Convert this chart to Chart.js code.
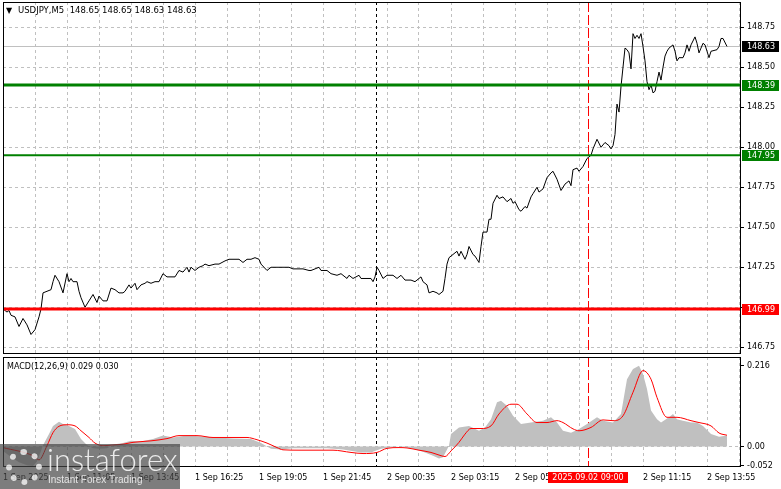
<!DOCTYPE html>
<html>
<head>
<meta charset="utf-8">
<title>USDJPY M5</title>
<script src="https://cdn.jsdelivr.net/npm/chart.js"></script>
<style>
  html, body { margin:0; padding:0; background:#fff; }
  #wrap { position:relative; width:781px; height:489px; overflow:hidden; background:#fff; }
  canvas { position:absolute; left:0; }
  #priceCanvas { top:0; }
  #macdCanvas { top:355px; }
  .lbl { position:absolute; font-family:"DejaVu Sans", sans-serif; color:#000; white-space:pre; }
  #title { left:6px; top:4px; font-size:8.5px; line-height:12px; }
  #title .tri { display:inline-block; width:12px; font-size:8px; }
  #macdTitle { left:7px; top:361px; font-size:8px; line-height:11px; }
  #logo { position:absolute; left:0; top:444px; width:180px; height:45px; background:rgba(70,70,70,0.7); }
  #logoIcon { position:absolute; left:6px; top:5px; width:24px; height:24px; border:6px dotted rgba(255,255,255,0.75); border-radius:50%; }
  #logoText { position:absolute; left:47px; top:-1px; font-family:Lato, "DejaVu Sans", sans-serif; font-weight:300; font-size:31px; line-height:32px; color:rgba(255,255,255,0.85); }
  #logoSub { position:absolute; left:48px; top:30px; font-family:"Liberation Sans", sans-serif; font-size:10px; line-height:12px; color:rgba(255,255,255,0.8); }
</style>
</head>
<body>
<div id="wrap">
  <canvas id="priceCanvas" width="781" height="356"></canvas>
  <canvas id="macdCanvas" width="781" height="134"></canvas>
  <div id="title" class="lbl"></div>
  <div id="macdTitle" class="lbl"></div>
  <div id="logo">
    <div id="logoIcon"></div>
    <div id="logoText">instaforex</div>
    <div id="logoSub">Instant Forex Trading</div>
  </div>
</div>
<script>
// USDJPY M5 close prices, sampled by bar number (bar 0 = first bar on screen)
const symbol = 'USDJPY,M5';
const ohlc = [148.65, 148.65, 148.63, 148.63];
const bid = 148.63;

const priceBars = [
  0,2,3,4,6,8,10,12,14,16,
  18,19,20,22,24,25,26,28,30,32,
  33,34,35,37,38,39,41,43,45,47,
  48,50,52,54,56,58,60,61,63,64,
  66,67,69,71,72,74,76,78,80,82,
  84,86,88,90,92,93,94,96,98,100,
  101,103,106,108,111,113,115,118,120,122,
  124,126,128,129,132,134,136,138,141,143,
  145,148,150,153,154,156,158,159,162,164,
  167,169,172,173,175,178,179,182,184,185,
  186,187,188,190,192,195,197,199,201,204,
  206,208,209,210,212,213,215,217,218,220,
  221,222,223,225,227,228,229,231,232,233,
  235,236,237,238,239,240,242,243,244,245,
  247,248,250,252,254,255,256,258,259,261,
  262,264,265,267,268,270,272,274,275,277,
  279,281,283,284,285,287,288,290,292,294,
  295,297,299,301,303,304,305,306,307,308,
  309,311,312,313,314,315,316,317,318,319,
  320,321,322,323,324,325,326,327,328,329,
  330,331,332,333,335,336,337,338,340,341,
  342,343,344,346,347,348,349,350,351,352,
  353,354,357,358,359,360,362
];
const priceVals = [
  146.99,146.97,146.98,146.95,146.94,146.88,146.93,146.89,146.83,146.86,
  146.94,146.99,147.09,147.10,147.11,147.16,147.20,147.16,147.09,147.21,
  147.16,147.18,147.16,147.16,147.10,147.06,147.00,147.04,147.08,147.03,
  147.07,147.04,147.04,147.12,147.11,147.09,147.09,147.10,147.14,147.12,
  147.15,147.11,147.14,147.15,147.16,147.15,147.16,147.16,147.21,147.19,
  147.19,147.19,147.23,147.22,147.25,147.22,147.25,147.23,147.25,147.26,
  147.27,147.26,147.27,147.27,147.29,147.30,147.30,147.30,147.28,147.30,
  147.30,147.31,147.30,147.27,147.23,147.25,147.25,147.25,147.25,147.25,
  147.24,147.24,147.24,147.23,147.23,147.24,147.25,147.23,147.23,147.21,
  147.20,147.21,147.18,147.20,147.18,147.20,147.18,147.18,147.18,147.16,
  147.19,147.25,147.23,147.18,147.20,147.20,147.18,147.20,147.17,147.17,
  147.16,147.18,147.19,147.16,147.14,147.09,147.10,147.09,147.08,147.10,
  147.18,147.27,147.31,147.33,147.35,147.32,147.35,147.30,147.33,147.38,
  147.33,147.32,147.30,147.28,147.38,147.47,147.47,147.55,147.55,147.65,
  147.70,147.68,147.69,147.66,147.68,147.65,147.66,147.61,147.60,147.63,
  147.62,147.69,147.71,147.75,147.72,147.74,147.81,147.84,147.85,147.80,
  147.73,147.77,147.79,147.76,147.86,147.87,147.85,147.88,147.93,147.95,
  147.99,148.05,148.00,148.03,148.01,147.99,148.01,148.08,148.27,148.22,
  148.38,148.62,148.61,148.59,148.49,148.71,148.68,148.70,148.68,148.71,
  148.63,148.54,148.41,148.36,148.39,148.34,148.35,148.41,148.47,148.42,
  148.50,148.57,148.60,148.62,148.64,148.60,148.54,148.56,148.56,148.59,
  148.64,148.60,148.64,148.69,148.65,148.59,148.62,148.65,148.64,148.60,
  148.56,148.60,148.61,148.63,148.68,148.68,148.63
];

// MACD(12,26,9): histogram (main) and signal line
const macdNow = [0.029, 0.030];
const histBars = [
  0,4,8,12,15,17,19,20,23,25,28,30,33,36,39,42,45,48,52,56,
  60,64,69,75,80,85,92,98,107,115,124,129,134,139,145,154,162,170,179,184,
  189,194,198,204,210,215,218,220,223,224,228,233,238,241,244,247,249,252,255,259,
  264,270,274,277,280,284,288,292,297,300,305,309,312,315,318,320,322,324,327,329,
  333,335,337,340,344,347,350,354,358,362
];
const histVals = [
  -0.012,-0.028,-0.042,-0.050,-0.052,-0.040,-0.012,0.003,0.033,0.055,0.066,0.060,0.055,0.047,0.020,0.004,-0.005,-0.006,-0.005,0.006,
  0.009,0.015,0.013,0.020,0.029,0.024,0.029,0.027,0.024,0.021,0.020,0.009,-0.006,-0.008,-0.005,-0.005,-0.005,-0.008,-0.016,-0.016,
  -0.006,-0.003,0.000,-0.005,-0.014,-0.025,-0.032,-0.029,0.002,0.033,0.051,0.055,0.042,0.051,0.073,0.118,0.122,0.109,0.082,0.060,
  0.064,0.069,0.078,0.064,0.042,0.037,0.047,0.060,0.078,0.069,0.064,0.087,0.180,0.207,0.216,0.194,0.154,0.096,0.073,0.064,
  0.078,0.087,0.073,0.069,0.064,0.064,0.055,0.033,0.026,0.029
];
const signalBars = [
  0,15,18,22,25,28,32,36,39,43,46,50,55,60,65,74,82,88,97,105,
  115,122,127,132,137,140,148,158,165,174,180,187,192,198,202,208,214,218,221,224,
  228,231,234,239,244,248,254,257,262,267,272,277,280,285,288,294,300,305,310,315,
  320,324,327,332,337,344,348,354,358,362
];
const signalVals = [
  -0.003,-0.025,-0.036,0.002,0.037,0.054,0.058,0.055,0.042,0.024,0.009,0.002,0.004,0.006,0.011,0.015,0.021,0.029,0.029,0.024,
  0.024,0.024,0.018,0.009,-0.003,-0.009,-0.010,-0.010,-0.010,-0.016,-0.019,-0.016,-0.005,-0.003,-0.004,-0.010,-0.016,-0.023,-0.027,-0.012,
  0.011,0.033,0.048,0.048,0.055,0.087,0.113,0.113,0.087,0.064,0.064,0.069,0.064,0.047,0.042,0.051,0.071,0.069,0.082,0.145,
  0.203,0.180,0.131,0.078,0.078,0.069,0.064,0.055,0.036,0.030
];

// axes
const xTickLabels = ['1 Sep 2025','1 Sep 11:05','1 Sep 13:45','1 Sep 16:25','1 Sep 19:05','1 Sep 21:45',
  '2 Sep 00:35','2 Sep 03:15','2 Sep 05:55','2 Sep 08:35','2 Sep 11:15','2 Sep 13:55'];
const priceTicks = [146.75, 147.00, 147.25, 147.50, 147.75, 148.00, 148.25, 148.50, 148.75];
const macdTicks = [-0.052, 0, 0.216];
const macdTickLabels = ['-0.052', '0.00', '0.216'];

// horizontal levels and vertical markers
const levels = [148.39, 147.95, 146.99];
const levelColors = ['#008000', '#008000', '#ff0000'];
const levelWidths = [3, 2, 3];
const separatorBar = 186.5;
const markerBar = 292.5;
const markerLabel = '2025.09.02 09:00';

Chart.defaults.font.family = '"DejaVu Sans", sans-serif';
Chart.defaults.font.size = 8;
Chart.defaults.color = '#000';

// the library pads the plot for edge labels; MT4 does not, so drop that padding
function noEdgePadding(s) {
  s.paddingTop = 0; s.paddingBottom = 0; s.paddingLeft = 0; s.paddingRight = 0;
}

// a price label that sits under a level's box is not drawn
function priceLabel(v) {
  return levels.some(lv => Math.abs(lv - v) < 0.02) ? '' : v.toFixed(2);
}

function xScale(showLabels) {
  return {
    type: 'linear', min: 0, max: 369,
    afterBuildTicks: s => { s.ticks = []; for (let b = 0; b <= 368; b += 16) s.ticks.push({value: b}); },
    ticks: {
      display: showLabels, autoSkip: false, maxRotation: 0, align: 'start', padding: 6,
      callback: v => (v % 32 === 0 ? (xTickLabels[v / 32] || '') : '')
    },
    grid: { color: '#c0c0c0', drawTicks: false },
    border: { display: false, dash: [3, 3] },
    afterFit: s => { s.height = showLabels ? 22 : 0; noEdgePadding(s); }
  };
}

function vline(ctx, area, x, color, dash) {
  const px = Math.round(x) + 0.5;
  ctx.save();
  ctx.strokeStyle = color;
  ctx.lineWidth = 1;
  ctx.setLineDash(dash);
  ctx.beginPath();
  ctx.moveTo(px, area.top);
  ctx.lineTo(px, area.bottom);
  ctx.stroke();
  ctx.restore();
}

function axisBox(ctx, area, y, bg, text) {
  ctx.save();
  ctx.fillStyle = bg;
  ctx.fillRect(area.right + 1, Math.round(y) - 5, 37, 11);
  ctx.fillStyle = '#fff';
  ctx.font = '8px "DejaVu Sans", sans-serif';
  ctx.textBaseline = 'middle';
  ctx.fillText(text, area.right + 6, Math.round(y) + 0.5);
  ctx.restore();
}

const markersPlugin = {
  id: 'markers',
  beforeDatasetsDraw(chart) {
    const {ctx, chartArea, scales} = chart;
    vline(ctx, chartArea, scales.x.getPixelForValue(separatorBar), '#000', [3, 3]);
    vline(ctx, chartArea, scales.x.getPixelForValue(markerBar), '#ff0000', [10, 3]);
  },
  afterDraw(chart) {
    const {ctx, chartArea: a} = chart;
    ctx.save();
    ctx.strokeStyle = '#000';
    ctx.lineWidth = 1;
    ctx.strokeRect(Math.round(a.left) + 0.5, Math.round(a.top) + 0.5, Math.round(a.right - a.left) - 1, Math.round(a.bottom - a.top) - 1);
    ctx.restore();
  }
};

const pricePlugin = {
  id: 'priceLevels',
  beforeDatasetsDraw(chart) {
    const {ctx, chartArea: a, scales} = chart;
    const y = Math.round(scales.y.getPixelForValue(bid)) + 0.5;
    ctx.save();
    ctx.strokeStyle = '#c0c0c0';
    ctx.lineWidth = 1;
    ctx.beginPath();
    ctx.moveTo(a.left, y);
    ctx.lineTo(a.right, y);
    ctx.stroke();
    ctx.restore();
  },
  afterDatasetsDraw(chart) {
    const {ctx, chartArea: a, scales} = chart;
    levels.forEach((lv, i) => {
      const y = scales.y.getPixelForValue(lv);
      ctx.save();
      ctx.strokeStyle = levelColors[i];
      ctx.lineWidth = levelWidths[i];
      ctx.beginPath();
      ctx.moveTo(a.left, y);
      ctx.lineTo(a.right, y);
      ctx.stroke();
      ctx.restore();
      axisBox(ctx, a, y, levelColors[i], lv.toFixed(2));
    });
    axisBox(ctx, a, scales.y.getPixelForValue(bid), '#000', bid.toFixed(2));
  }
};

const macdPlugin = {
  id: 'macdMarker',
  afterDraw(chart) {
    const {ctx, chartArea: a, scales} = chart;
    const x = Math.round(scales.x.getPixelForValue(markerBar));
    ctx.save();
    ctx.fillStyle = '#ff0000';
    ctx.fillRect(x - 40, a.bottom + 5, 80, 11);
    ctx.fillStyle = '#fff';
    ctx.font = '8px "DejaVu Sans", sans-serif';
    ctx.textAlign = 'center';
    ctx.textBaseline = 'middle';
    ctx.fillText(markerLabel, x, a.bottom + 10.5);
    ctx.restore();
  }
};

new Chart(document.getElementById('priceCanvas'), {
  type: 'line',
  data: {
    datasets: [{
      data: priceBars.map((b, i) => ({x: b, y: priceVals[i]})),
      borderColor: '#000', borderWidth: 1, pointRadius: 0, tension: 0
    }]
  },
  options: {
    responsive: false, animation: false, events: [],
    layout: { padding: { left: 3, top: 2, right: 0, bottom: 2 } },
    plugins: { legend: { display: false }, tooltip: { enabled: false } },
    scales: {
      x: xScale(false),
      y: {
        type: 'linear', position: 'right', min: 146.708, max: 148.908,
        afterBuildTicks: s => { s.ticks = priceTicks.map(v => ({value: v})); },
        ticks: { padding: 3, callback: v => priceLabel(v) },
        grid: { color: '#c0c0c0', tickColor: '#000', tickLength: 3 },
        border: { display: false, dash: [3, 3] },
        afterFit: s => { s.width = 40; noEdgePadding(s); }
      }
    }
  },
  plugins: [markersPlugin, pricePlugin]
});

new Chart(document.getElementById('macdCanvas'), {
  type: 'line',
  data: {
    datasets: [
      {
        label: 'Signal',
        data: signalBars.map((b, i) => ({x: b, y: signalVals[i]})),
        borderColor: '#ff0000', borderWidth: 1, pointRadius: 0, cubicInterpolationMode: 'monotone'
      },
      {
        label: 'MACD',
        data: histBars.map((b, i) => ({x: b, y: histVals[i]})),
        borderWidth: 0, pointRadius: 0, tension: 0,
        backgroundColor: '#c0c0c0', fill: 'origin'
      }
    ]
  },
  options: {
    responsive: false, animation: false, events: [],
    layout: { padding: { left: 3, top: 2, right: 0, bottom: 0 } },
    plugins: { legend: { display: false }, tooltip: { enabled: false } },
    scales: {
      x: xScale(true),
      y: {
        type: 'linear', position: 'right', min: -0.055, max: 0.2394,
        afterBuildTicks: s => { s.ticks = macdTicks.map(v => ({value: v})); },
        ticks: { padding: 3, callback: (v, i) => macdTickLabels[i] },
        grid: {
          color: c => (c.tick && c.tick.value === 0 ? '#c0c0c0' : 'rgba(0,0,0,0)'),
          tickColor: '#000', tickLength: 3
        },
        border: { display: false, dash: [3, 3] },
        afterFit: s => { s.width = 40; noEdgePadding(s); }
      }
    }
  },
  plugins: [markersPlugin, macdPlugin]
});

document.getElementById('title').innerHTML = '<span class="tri">\u25BC</span>' + symbol + '  ' + ohlc.map(v => v.toFixed(2)).join(' ');
document.getElementById('macdTitle').textContent = 'MACD(12,26,9) ' + macdNow.map(v => v.toFixed(3)).join(' ');
</script>
</body>
</html>
